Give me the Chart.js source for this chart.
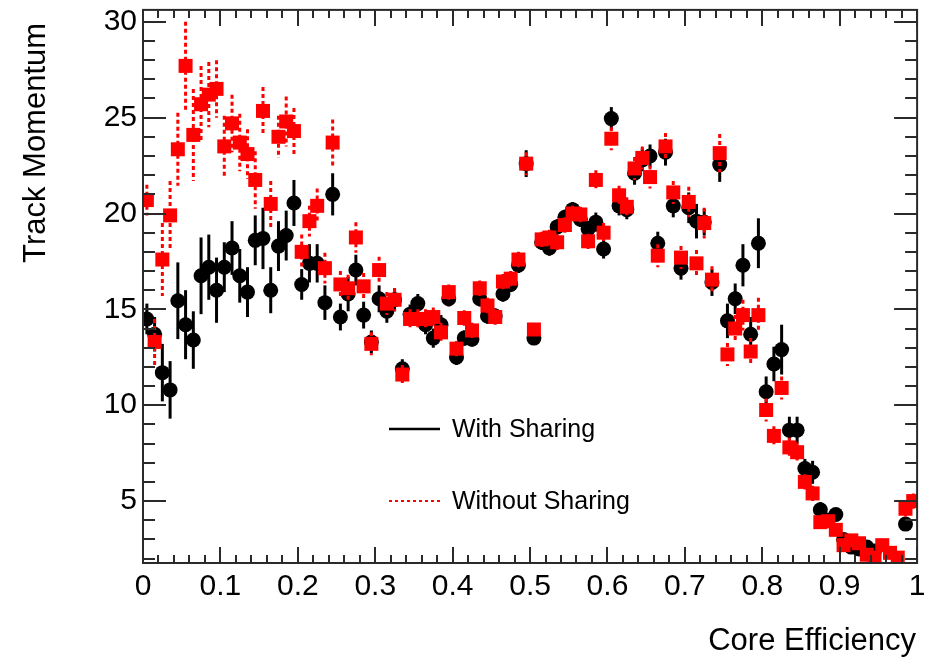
<!DOCTYPE html>
<html>
<head>
<meta charset="utf-8">
<script src="https://cdn.jsdelivr.net/npm/chart.js@4/dist/chart.umd.min.js"></script>
<style>
  html, body { margin: 0; padding: 0; background: #fff; }
  canvas { display: block; }
</style>
</head>
<body>
<canvas id="momentumChart" width="927" height="660"></canvas>
<script>
// bin centres of the core efficiency histogram (100 bins over 0..1)
const binCenters = [
  0.005, 0.015, 0.025, 0.035, 0.045, 0.055, 0.065, 0.075, 0.085, 0.095,
  0.105, 0.115, 0.125, 0.135, 0.145, 0.155, 0.165, 0.175, 0.185, 0.195,
  0.205, 0.215, 0.225, 0.235, 0.245, 0.255, 0.265, 0.275, 0.285, 0.295,
  0.305, 0.315, 0.325, 0.335, 0.345, 0.355, 0.365, 0.375, 0.385, 0.395,
  0.405, 0.415, 0.425, 0.435, 0.445, 0.455, 0.465, 0.475, 0.485, 0.495,
  0.505, 0.515, 0.525, 0.535, 0.545, 0.555, 0.565, 0.575, 0.585, 0.595,
  0.605, 0.615, 0.625, 0.635, 0.645, 0.655, 0.665, 0.675, 0.685, 0.695,
  0.705, 0.715, 0.725, 0.735, 0.745, 0.755, 0.765, 0.775, 0.785, 0.795,
  0.805, 0.815, 0.825, 0.835, 0.845, 0.855, 0.865, 0.875, 0.885, 0.895,
  0.905, 0.915, 0.925, 0.935, 0.945, 0.955, 0.965, 0.975, 0.985, 0.995
];

// "With Sharing" (black circles)
const withSharing = [
  14.5, 13.7, 11.7, 10.8, 15.45, 14.2, 13.4, 16.75, 17.2, 16.0,
  17.2, 18.2, 16.75, 15.9, 18.6, 18.7, 16.0, 18.3, 18.85, 20.55,
  16.3, 17.4, 17.4, 15.35, 21.0, 14.6, 15.8, 17.05, 14.7, 13.3,
  15.55, 14.9, 15.5, 11.9, 14.75, 15.3, 14.2, 13.5, 14.2, 15.55,
  12.5, 13.5, 13.45, 15.55, 14.65, 14.65, 15.8, 16.3, 17.3, 22.6,
  13.5, 18.5, 18.2, 19.3, 19.8, 20.2, 19.7, 19.2, 19.55, 18.15,
  24.95, 20.4, 20.2, 22.1, 22.8, 23.0, 18.45, 23.2, 20.4, 17.15,
  20.3, 19.6, 19.55, 16.4, 22.55, 14.4, 15.55, 17.3, 13.7, 18.45,
  10.7, 12.15, 12.9, 8.7, 8.7, 6.7, 6.5, 4.55, 4.0, 4.3,
  3.0, 2.6, 2.5, 2.6, 2.4, null, null, null, 3.8, null
];
const withSharingErr = [
  0.8, 0.9, 1.5, 1.5, 2.0, 1.8, 1.5, 2.0, 1.7, 1.7,
  1.3, 1.4, 1.4, 1.3, 1.3, 1.6, 1.2, 1.3, 1.3, 1.2,
  0.8, 1.0, 1.0, 0.9, 1.1, 0.7, 0.9, 0.8, 0.7, 0.6,
  0.7, 0.6, 0.6, 0.5, 0.5, 0.5, 0.5, 0.5, 0.5, 0.4,
  0.4, 0.4, 0.4, 0.4, 0.4, 0.4, 0.4, 0.4, 0.4, 0.7,
  0.3, 0.4, 0.4, 0.4, 0.4, 0.4, 0.4, 0.4, 0.5, 0.5,
  0.6, 0.5, 0.5, 0.6, 0.6, 0.6, 0.6, 0.7, 0.6, 0.6,
  0.8, 0.9, 0.7, 0.7, 0.9, 0.9, 0.8, 1.1, 0.9, 1.3,
  0.8, 0.9, 1.3, 0.7, 0.7, 0.5, 0.6, 0.4, 0.3, 0.3,
  0.3, 0.3, 0.3, 0.3, 0.3, 0, 0, 0, 0.3, 0
];

// "Without Sharing" (red squares)
const withoutSharing = [
  20.7, 13.3, 17.6, 19.9, 23.35, 27.7, 24.1, 25.7, 26.2, 26.5,
  23.5, 24.7, 23.7, 23.1, 21.75, 25.35, 20.5, 24.0, 24.8, 24.3,
  18.0, 19.6, 20.4, 17.15, 23.7, 16.3, 16.1, 18.75, 16.2, 13.2,
  17.05, 15.3, 15.5, 11.6, 14.5, 14.5, 14.5, 14.6, 13.8, 15.9,
  12.95, 14.55, 13.9, 16.1, 15.2, 14.6, 16.45, 16.6, 17.6, 22.6,
  13.95, 18.65, 18.75, 18.5, 19.4, 20.0, 19.95, 18.55, 21.75, 19.0,
  23.9, 20.95, 20.35, 22.35, 22.9, 21.9, 17.8, 23.5, 21.1, 17.7,
  20.6, 17.4, 19.5, 16.55, 23.15, 12.65, 14.0, 14.7, 12.8, 14.7,
  9.75, 8.4, 10.9, 7.8, 7.55, 6.0, 5.4, 3.9, 3.95, 3.5,
  2.7, 2.95, 2.8, 2.2, 2.05, 2.7, 2.3, 2.05, 4.6, 5.0
];
const withoutSharingErr = [
  0.8, 1.2, 1.9, 1.8, 1.9, 2.3, 2.4, 2.0, 1.7, 1.5,
  1.6, 1.5, 1.5, 1.3, 1.5, 1.25, 1.2, 1.1, 1.3, 1.2,
  0.9, 0.8, 0.9, 0.8, 1.2, 0.7, 0.7, 0.8, 0.7, 0.6,
  0.7, 0.6, 0.6, 0.5, 0.5, 0.5, 0.5, 0.5, 0.5, 0.4,
  0.4, 0.4, 0.4, 0.4, 0.4, 0.4, 0.4, 0.4, 0.4, 0.6,
  0.3, 0.4, 0.4, 0.4, 0.4, 0.4, 0.4, 0.4, 0.5, 0.5,
  0.6, 0.5, 0.5, 0.6, 0.6, 0.6, 0.6, 0.7, 0.6, 0.6,
  0.8, 0.7, 0.8, 0.7, 1.0, 0.6, 0.7, 0.8, 0.7, 0.9,
  0.6, 0.5, 0.6, 0.5, 0.5, 0.4, 0.4, 0.3, 0.3, 0.3,
  0.3, 0.3, 0.3, 0.3, 0.3, 0.3, 0.3, 0.3, 0.4, 0.4
];

const xTicks = [0, 0.1, 0.2, 0.3, 0.4, 0.5, 0.6, 0.7, 0.8, 0.9, 1];
const xTickLabels = ['0', '0.1', '0.2', '0.3', '0.4', '0.5', '0.6', '0.7', '0.8', '0.9', '1'];
const yTicks = [5, 10, 15, 20, 25, 30];
const seriesNames = ['With Sharing', 'Without Sharing'];

const FONT = "'Liberation Sans', Arial, Helvetica, sans-serif";
const AXIS_COLOR = '#2a2a2a';

const toPoints = (ys) => binCenters.map((x, i) => ({ x, y: ys[i] }));
const errorSets = [withSharingErr, withoutSharingErr];
const valueSets = [withSharing, withoutSharing];

// vertical error bars, drawn just before each dataset's markers
const errorBars = {
  id: 'errorBars',
  beforeDatasetDraw(chart, args) {
    const { ctx, chartArea, scales } = chart;
    const vals = valueSets[args.index];
    const errs = errorSets[args.index];
    ctx.save();
    ctx.beginPath();
    ctx.rect(chartArea.left, chartArea.top, chartArea.right - chartArea.left, chartArea.bottom - chartArea.top);
    ctx.clip();
    ctx.lineWidth = 3;
    if (args.index === 0) {
      ctx.strokeStyle = '#000';
      ctx.setLineDash([]);
    } else {
      ctx.strokeStyle = '#ff0000';
      ctx.setLineDash([4, 3]);
    }
    vals.forEach((v, i) => {
      if (v === null || !errs[i]) return;
      const px = scales.x.getPixelForValue(binCenters[i]);
      ctx.beginPath();
      ctx.moveTo(px, scales.y.getPixelForValue(v + errs[i]));
      ctx.lineTo(px, scales.y.getPixelForValue(v - errs[i]));
      ctx.stroke();
    });
    ctx.restore();
  }
};

// ROOT style frame with inward ticks on all four sides, titles and legend
const rootFrame = {
  id: 'rootFrame',
  afterDraw(chart) {
    const { ctx, chartArea: a, scales } = chart;
    const xs = scales.x, ys = scales.y;
    ctx.save();
    ctx.strokeStyle = AXIS_COLOR;
    ctx.lineWidth = 2;
    ctx.setLineDash([]);
    ctx.strokeRect(a.left, a.top, a.right - a.left, a.bottom - a.top);

    ctx.beginPath();
    // x ticks: major every 0.1, minor every 0.02
    for (let k = 0; k <= 50; k++) {
      const px = Math.round(xs.getPixelForValue(k / 50));
      const len = k % 5 === 0 ? 16 : 8;
      ctx.moveTo(px, a.bottom); ctx.lineTo(px, a.bottom - len);
      ctx.moveTo(px, a.top); ctx.lineTo(px, a.top + len);
    }
    // y ticks: major every 5, minor every 1
    for (let v = Math.ceil(ys.min); v <= ys.max; v++) {
      const py = Math.round(ys.getPixelForValue(v));
      const len = v % 5 === 0 ? 23 : 12;
      ctx.moveTo(a.left, py); ctx.lineTo(a.left + len, py);
      ctx.moveTo(a.right, py); ctx.lineTo(a.right - len, py);
    }
    ctx.stroke();

    // axis titles
    ctx.fillStyle = '#000';
    ctx.font = '31px ' + FONT;
    ctx.textAlign = 'right';
    ctx.textBaseline = 'middle';
    ctx.fillText('Core Efficiency', a.right - 1, 641);
    ctx.save();
    ctx.translate(36, a.top + 13);
    ctx.rotate(-Math.PI / 2);
    ctx.fillText('Track Momentum', 0, 0);
    ctx.restore();

    // legend
    ctx.lineWidth = 2.5;
    ctx.strokeStyle = '#000';
    ctx.beginPath(); ctx.moveTo(389, 429); ctx.lineTo(440, 429); ctx.stroke();
    ctx.lineWidth = 2;
    ctx.strokeStyle = '#ff0000';
    ctx.setLineDash([3, 3]);
    ctx.beginPath(); ctx.moveTo(389, 501); ctx.lineTo(440, 501); ctx.stroke();
    ctx.setLineDash([]);
    ctx.font = '25px ' + FONT;
    ctx.textAlign = 'left';
    ctx.fillText(seriesNames[0], 452, 430);
    ctx.fillText(seriesNames[1], 452, 502);
    ctx.restore();
  }
};

const noEdgePadding = s => {
  s.paddingTop = 0; s.paddingBottom = 0; s.paddingLeft = 0; s.paddingRight = 0;
};

const ctx = document.getElementById('momentumChart').getContext('2d');
new Chart(ctx, {
  type: 'scatter',
  data: {
    datasets: [
      {
        label: seriesNames[0],
        data: toPoints(withSharing),
        order: 1,
        pointStyle: 'circle',
        pointRadius: 7.5,
        backgroundColor: '#000',
        borderColor: '#000',
        borderWidth: 0
      },
      {
        label: seriesNames[1],
        data: toPoints(withoutSharing),
        order: 0,
        pointStyle: 'rect',
        pointRadius: 9.9,
        backgroundColor: '#ff0000',
        borderColor: '#ff0000',
        borderWidth: 0
      }
    ]
  },
  options: {
    responsive: false,
    animation: false,
    devicePixelRatio: 1,
    layout: { padding: { top: 7, right: 9, left: 0, bottom: 0 } },
    plugins: {
      legend: { display: false },
      tooltip: { enabled: false }
    },
    scales: {
      x: {
        type: 'linear',
        min: 0,
        max: 1,
        afterBuildTicks: s => { s.ticks = xTicks.map(v => ({ value: v })); },
        afterFit: s => { s.height = 97; noEdgePadding(s); },
        grid: { display: false, drawTicks: false },
        border: { display: false },
        ticks: {
          color: '#000',
          font: { family: FONT, size: 30 },
          padding: 6,
          maxRotation: 0,
          autoSkip: false,
          callback: (v, i) => xTickLabels[i]
        }
      },
      y: {
        type: 'linear',
        min: 1.77,
        max: 30.62,
        afterBuildTicks: s => { s.ticks = yTicks.map(v => ({ value: v })); },
        afterFit: s => { s.width = 143; noEdgePadding(s); },
        grid: { display: false, drawTicks: false },
        border: { display: false },
        ticks: {
          color: '#000',
          font: { family: FONT, size: 30 },
          padding: 6,
          autoSkip: false
        }
      }
    }
  },
  plugins: [errorBars, rootFrame]
});
</script>
</body>
</html>
